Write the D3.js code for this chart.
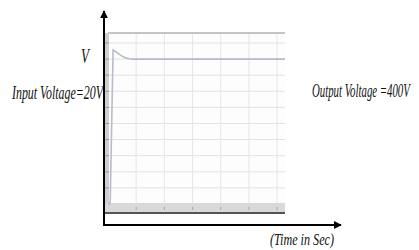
<!DOCTYPE html>
<html><head><meta charset="utf-8">
<script src="https://cdn.jsdelivr.net/npm/d3@7"></script>
<style>html,body{margin:0;padding:0;background:#fff;overflow:hidden}svg{display:block}</style>
</head><body>
<script>
// Data (time in s, voltage in V)
const timeValues = [0, 0.003, 0.004, 0.009, 0.015, 0.022, 0.030, 0.038, 0.045, 0.314];
const voltageValues = [0, 0, 10, 425, 419, 411, 404, 401, 400, 400];
const timeGrid = [0.05, 0.10, 0.15, 0.20, 0.25, 0.30];
const voltGridStep = 400 / 9;
const yLabel = "V";
const xLabel = "(Time in Sec)";
const inputLabel = "Input Voltage=20V";
const outputLabel = "Output Voltage =400V";

const W = 419, H = 250;
const svg = d3.select("body").append("svg").attr("width", W).attr("height", H);

const x = d3.scaleLinear().domain([0, 0.314]).range([108, 285]);
const y = d3.scaleLinear().domain([0, 472]).range([204, 33]);
const voltGrid = d3.range(1, 11).map(i => i * voltGridStep);

// plot background
svg.append("rect").attr("x", x(0)).attr("y", y(472)).attr("width", x(0.314) - x(0)).attr("height", y(0) - y(472)).attr("fill", "#fdfdfd");

// horizontal grid
svg.append("g").selectAll("line").data(voltGrid).join("line")
  .attr("x1", x(0)).attr("x2", x(0.314))
  .attr("y1", d => y(d)).attr("y2", d => y(d))
  .attr("stroke", "#e2e2e2").attr("stroke-width", 1);
// vertical grid
svg.append("g").selectAll("line").data(timeGrid).join("line")
  .attr("x1", d => x(d)).attr("x2", d => x(d))
  .attr("y1", y(472)).attr("y2", y(0))
  .attr("stroke", "#e6e6e6").attr("stroke-width", 1);

// top border
svg.append("line").attr("x1", x(0)).attr("x2", x(0.314)).attr("y1", y(472)).attr("y2", y(472))
  .attr("stroke", "#c4c4c4").attr("stroke-width", 2);
// left strip
svg.append("rect").attr("x", x(0) - 3).attr("y", y(472)).attr("width", 4).attr("height", y(0) - y(472) + 10)
  .attr("fill", "#cfcfcf");
svg.append("g").selectAll("line").data(voltGrid).join("line")
  .attr("x1", x(0) - 3).attr("x2", x(0) + 1)
  .attr("y1", d => y(d)).attr("y2", d => y(d))
  .attr("stroke", "#9a9a9a").attr("stroke-width", 1);
// bottom band
svg.append("rect").attr("x", x(0) - 3).attr("y", y(0) - 1).attr("width", x(0.314) - x(0) + 3).attr("height", 9)
  .attr("fill", "#d9d9d9");
svg.append("g").selectAll("line").data(timeGrid).join("line")
  .attr("x1", d => x(d)).attr("x2", d => x(d))
  .attr("y1", y(0) + 3).attr("y2", y(0) + 6)
  .attr("stroke", "#a8a8a8").attr("stroke-width", 1);
svg.append("line").attr("x1", x(0) - 3).attr("x2", x(0.314)).attr("y1", y(0) + 9).attr("y2", y(0) + 9)
  .attr("stroke", "#555").attr("stroke-width", 2);

// signal
const line = d3.line().x((d, i) => x(timeValues[i])).y(d => y(d));
svg.append("path").datum(voltageValues).attr("d", line)
  .attr("fill", "none").attr("stroke", "#b7bccb").attr("stroke-width", 1.6);

// axes with arrows
svg.append("defs").append("marker").attr("id", "arr").attr("viewBox", "0 0 10 10")
  .attr("refX", 9).attr("refY", 5).attr("markerWidth", 4).attr("markerHeight", 4)
  .attr("orient", "auto").attr("markerUnits", "strokeWidth")
  .append("path").attr("d", "M0,0 L10,5 L0,10 z").attr("fill", "#000");
svg.append("line").attr("x1", 104).attr("y1", 225).attr("x2", 104).attr("y2", 11)
  .attr("stroke", "#000").attr("stroke-width", 2).attr("marker-end", "url(#arr)");
svg.append("line").attr("x1", 103).attr("y1", 225).attr("x2", 341).attr("y2", 225)
  .attr("stroke", "#000").attr("stroke-width", 2).attr("marker-end", "url(#arr)");

// texts (condensed by horizontal scaling)
const font = "'Liberation Serif', 'DejaVu Serif', serif";
function txt(t, xx, yy, size, len) {
  const g = svg.append("g");
  const el = g.append("text").attr("x", 0).attr("y", 0).text(t)
    .attr("font-family", font).attr("font-style", "italic").attr("font-size", size)
    .attr("fill", "#111");
  const natural = el.node().getComputedTextLength();
  g.attr("transform", `translate(${xx},${yy}) scale(${len / natural},1)`);
}
txt(yLabel, 81, 63, 21, 8);
txt(inputLabel, 12, 99, 19, 91);
txt(outputLabel, 312, 97, 19, 98);
txt(xLabel, 270, 245, 17, 64);
</script>
</body></html>
